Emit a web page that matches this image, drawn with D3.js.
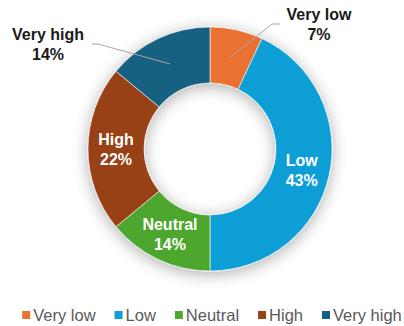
<!DOCTYPE html>
<html>
<head>
<meta charset="utf-8">
<script src="https://cdn.jsdelivr.net/npm/d3@7"></script>
<style>
  html, body { margin: 0; padding: 0; background: #fff; }
  svg { display: block; font-family: "Liberation Sans", Arial, sans-serif; }
</style>
</head>
<body>
<div id="chart"></div>
<script>
// Donut chart - distribution by level

const categories = ['Very low', 'Low', 'Neutral', 'High', 'Very high'];
const values = [7, 43, 14, 22, 14];
const colors = ['#E97132', '#0F9ED5', '#4EA72E', '#984112', '#156082'];
// labels drawn outside with a leader line
const outsideLabels = ['Very low', 'Very high'];

(function () {
    const width = 404;
    const height = 326;
    const cx = 210, cy = 149;
    const outerR = 122, innerR = 66;

    const data = categories.map((c, i) => ({ name: c, value: values[i], color: colors[i] }));
    const total = d3.sum(values);

    const svg = d3.select('#chart').append('svg')
        .attr('width', width)
        .attr('height', height);

    const defs = svg.append('defs');
    const shadow = defs.append('filter')
        .attr('id', 'shadow')
        .attr('x', '-30%').attr('y', '-30%')
        .attr('width', '160%').attr('height', '160%');
    shadow.append('feGaussianBlur').attr('in', 'SourceAlpha').attr('stdDeviation', 8).attr('result', 'blur');
    shadow.append('feOffset').attr('dx', 0).attr('dy', 3).attr('result', 'off');
    shadow.append('feComponentTransfer').append('feFuncA').attr('type', 'linear').attr('slope', 0.32);
    const merge = shadow.append('feMerge');
    merge.append('feMergeNode');
    merge.append('feMergeNode').attr('in', 'SourceGraphic');

    const pie = d3.pie().value(d => d.value).sort(null);
    const arc = d3.arc().innerRadius(innerR).outerRadius(outerR);
    const arcs = pie(data);

    const g = svg.append('g').attr('transform', `translate(${cx},${cy})`);

    g.append('g')
        .attr('filter', 'url(#shadow)')
        .selectAll('path')
        .data(arcs)
        .join('path')
        .attr('d', arc)
        .attr('fill', d => d.data.color)
        .attr('stroke', '#fff')
        .attr('stroke-width', 0.6);

    const pct = d => Math.round(d.data.value / total * 100) + '%';

    // inside labels
    const inside = arcs.filter(d => !outsideLabels.includes(d.data.name));
    const inLab = g.selectAll('.in-label')
        .data(inside)
        .join('text')
        .attr('class', 'in-label')
        .attr('transform', d => `translate(${arc.centroid(d)})`)
        .attr('text-anchor', 'middle')
        .attr('fill', '#fff')
        .attr('font-size', 16)
        .attr('font-weight', 'bold');
    inLab.append('tspan').attr('x', 0).attr('y', -4).text(d => d.data.name);
    inLab.append('tspan').attr('x', 0).attr('y', 16).text(pct);

    // outside labels with leader lines
    const outPos = {
        'Very low': { text: [109, -129], knee: [62, -125], end: [70, -125] },
        'Very high': { text: [-162, -109], knee: [-112, -105], end: [-118, -105] }
    };
    const outside = arcs.filter(d => outsideLabels.includes(d.data.name));

    g.selectAll('.leader')
        .data(outside)
        .join('polyline')
        .attr('class', 'leader')
        .attr('fill', 'none')
        .attr('stroke', '#a6a6a6')
        .attr('stroke-width', 1)
        .attr('points', d => {
            const p = outPos[d.data.name];
            return [arc.centroid(d), p.knee, p.end].map(q => q.join(',')).join(' ');
        });

    const outLab = g.selectAll('.out-label')
        .data(outside)
        .join('text')
        .attr('class', 'out-label')
        .attr('transform', d => `translate(${outPos[d.data.name].text})`)
        .attr('text-anchor', 'middle')
        .attr('fill', '#1a1a1a')
        .attr('font-size', 16)
        .attr('font-weight', 'bold');
    outLab.append('tspan').attr('x', 0).attr('y', 0).text(d => d.data.name);
    outLab.append('tspan').attr('x', 0).attr('y', 20).text(pct);

    // legend
    const legend = svg.append('g').attr('transform', 'translate(0,321)');
    const items = legend.selectAll('.item')
        .data(data)
        .join('g')
        .attr('class', 'item');
    items.append('rect')
        .attr('y', -10)
        .attr('width', 8)
        .attr('height', 8)
        .attr('fill', d => d.color);
    items.append('text')
        .attr('x', 11)
        .attr('font-size', 16.5)
        .attr('fill', '#595959')
        .text(d => d.name);

    let xPos = 0;
    const offsets = [];
    items.each(function () {
        offsets.push(xPos);
        const w = d3.select(this).select('text').node().getComputedTextLength();
        xPos += 11 + w + 19;
    });
    const totalW = xPos - 19;
    const start = 212 - totalW / 2;
    items.attr('transform', (d, i) => `translate(${start + offsets[i]},0)`);
})();
</script>
</body>
</html>
